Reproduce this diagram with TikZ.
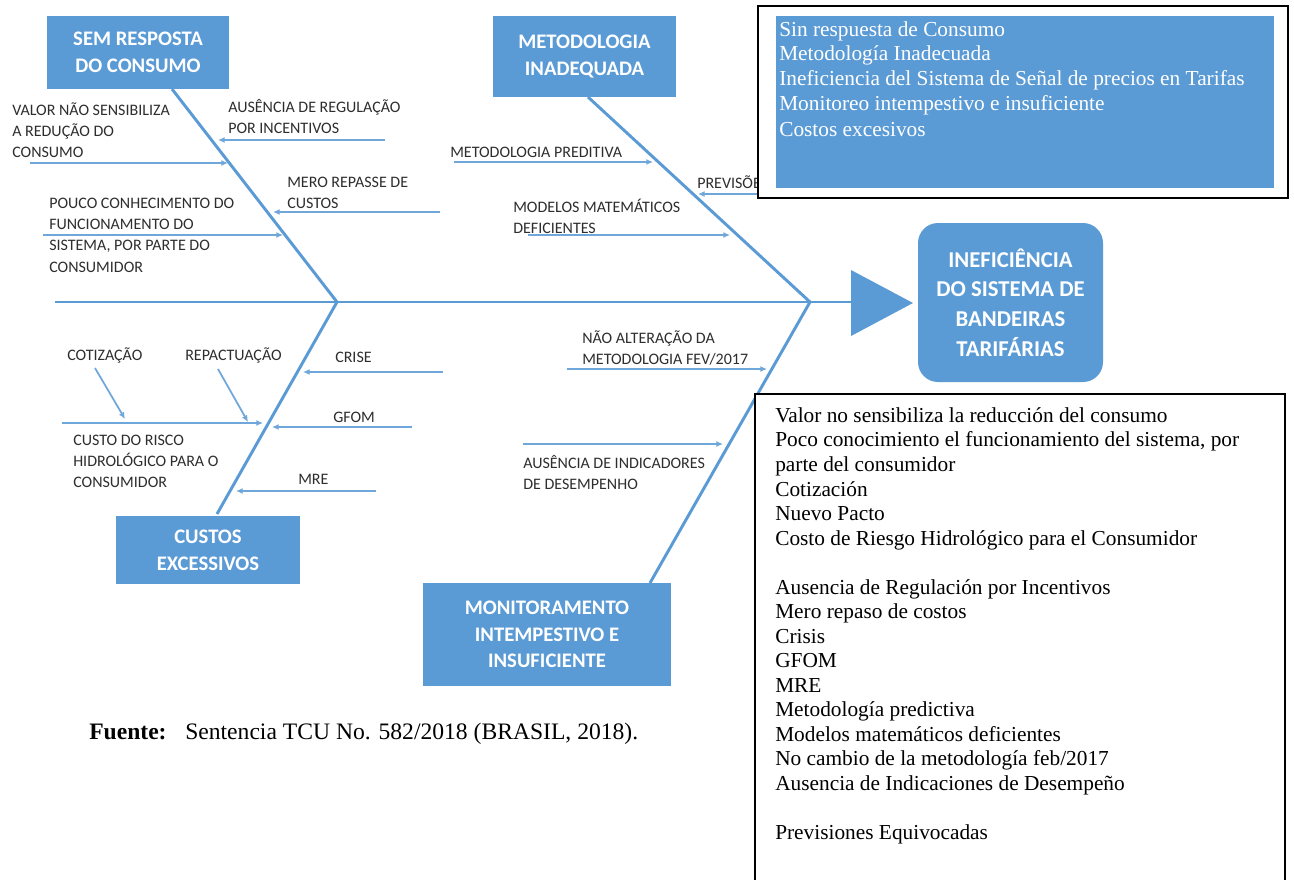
\documentclass[tikz,border=0pt]{standalone}
\usepackage{fontspec}
\newfontfamily\calfont{Carlito}
\newfontfamily\tmsfont{Liberation Serif}
\usetikzlibrary{arrows.meta}
\definecolor{bblue}{HTML}{5B9BD5}
\definecolor{ablue}{HTML}{6FA7DA}
\definecolor{labc}{HTML}{2E2E2E}
\begin{document}
\begin{tikzpicture}[x=0.75pt,y=-0.75pt,
  title/.style={fill=bblue, text=white, font=\calfont\bfseries\fontsize{15.5}{20}\selectfont, align=center, inner sep=0pt},
  lab/.style={anchor=north west, inner sep=0pt, align=left, text=labc, font=\calfont\fontsize{12}{16}\selectfont},
  bone/.style={draw=bblue, line width=2.2pt},
  sub/.style={draw=ablue, line width=1.3pt, -{Latex[length=5pt,width=4.5pt]}},
  ser/.style={font=\tmsfont\fontsize{16}{18.4}\selectfont, align=left, inner sep=0pt, anchor=north west}
]
\useasboundingbox (0,0) rectangle (1294,879);
\fill[white] (0,0) rectangle (1294,879);

% category boxes
\node[title, minimum width=136.5pt, minimum height=54.75pt] (b1) at (138,52.5) {SEM RESPOSTA\\DO CONSUMO};
\node[title, minimum width=137.25pt, minimum height=60.75pt] (b2) at (584.5,56.5) {METODOLOGIA\\INADEQUADA};
\node[title, minimum width=138pt, minimum height=51pt] (b3) at (208,550) {CUSTOS\\EXCESSIVOS};
\node[title, minimum width=186pt, minimum height=77.25pt] (b4) at (547,634.5) {MONITORAMENTO\\INTEMPESTIVO E\\INSUFICIENTE};
\node[title, rounded corners=15pt, font=\calfont\bfseries\fontsize{17}{22.3}\selectfont, minimum width=138.75pt, minimum height=119.25pt] (ef) at (1010.5,302.5) {INEFICIÊNCIA\\DO SISTEMA DE\\BANDEIRAS\\TARIFÁRIAS};

% spine and bones
\coordinate (s0) at (55,302);
\coordinate (j1) at (337,302);
\coordinate (j2) at (810,302);
\coordinate (tb) at (851,302);
\coordinate (k1) at (172,89);
\coordinate (k2) at (588,97);
\coordinate (k3) at (217,514);
\coordinate (k4) at (650,583);
\draw[bone] (s0) -- (tb);
\fill[bblue] (851,270) -- (913,303) -- (851,336) -- cycle;
\draw[bone] (k1) -- (j1) -- (k3);
\draw[bone] (k2) -- (j2) -- (k4);

% sub-cause arrows
\coordinate (a1s) at (385,140);  \coordinate (a1e) at (218,140);
\coordinate (a2s) at (30,163);   \coordinate (a2e) at (228,163);
\coordinate (a3s) at (440,212);  \coordinate (a3e) at (273,212);
\coordinate (a4s) at (43,235);   \coordinate (a4e) at (283,235);
\coordinate (a5s) at (454,162);  \coordinate (a5e) at (653,162);
\coordinate (a6s) at (770,194);  \coordinate (a6e) at (698,194);
\coordinate (a7s) at (528,235);  \coordinate (a7e) at (730,235);
\coordinate (a8s) at (443,372);  \coordinate (a8e) at (303,372);
\coordinate (a9s) at (412,427);  \coordinate (a9e) at (272,427);
\coordinate (a10s) at (376,491); \coordinate (a10e) at (236,491);
\coordinate (a11s) at (62,423);  \coordinate (a11e) at (263,423);
\coordinate (a12s) at (95,368);  \coordinate (a12e) at (125,419);
\coordinate (a13s) at (218,369); \coordinate (a13e) at (248,422);
\coordinate (a14s) at (567,369); \coordinate (a14e) at (767,369);
\coordinate (a15s) at (523,444); \coordinate (a15e) at (723,444);
\foreach \i in {1,...,15} {\draw[sub] (a\i s) -- (a\i e);}

% labels
\node[lab] (l1) at (228,97) {\strut AUSÊNCIA DE REGULAÇÃO\\POR INCENTIVOS};
\node[lab] (l2) at (12,100) {\strut VALOR NÃO SENSIBILIZA\\A REDUÇÃO DO\\CONSUMO};
\node[lab] (l3) at (287,172) {\strut MERO REPASSE DE\\CUSTOS};
\node[lab] (l4) at (49,193) {\strut POUCO CONHECIMENTO DO\\FUNCIONAMENTO DO\\SISTEMA, POR PARTE DO\\CONSUMIDOR};
\node[lab] (l5) at (450,142) {\strut METODOLOGIA PREDITIVA};
\node[lab] (l6) at (697,173) {\strut PREVISÕES};
\node[lab] (l7) at (513,197) {\strut MODELOS MATEMÁTICOS\\DEFICIENTES};
\node[lab] (l8) at (67,345) {\strut COTIZAÇÃO};
\node[lab] (l9) at (185,345) {\strut REPACTUAÇÃO};
\node[lab] (l10) at (335,347) {\strut CRISE};
\node[lab] (l11) at (333,407) {\strut GFOM};
\node[lab] (l12) at (298,469) {\strut MRE};
\node[lab] (l13) at (73,430) {\strut CUSTO DO RISCO\\HIDROLÓGICO PARA O\\CONSUMIDOR};
\node[lab] (l14) at (582,328) {\strut NÃO ALTERAÇÃO DA\\METODOLOGIA FEV/2017};
\node[lab] (l15) at (523,453) {\strut AUSÊNCIA DE INDICADORES\\DE DESEMPENHO};

% top legend box
\node[draw=black, line width=1.5pt, fill=white, minimum width=397.5pt, minimum height=144pt, inner sep=0pt] (tbox) at (1023,102) {};
\node[fill=bblue, minimum width=373.5pt, minimum height=129pt, inner sep=0pt] (tblue) at (1025,102) {};
\node[ser, text=white] (ttext) at (779,19) {\strut Sin respuesta de Consumo\\Metodología Inadecuada\\Ineficiencia del Sistema de Señal de precios en Tarifas\\Monitoreo intempestivo e insuficiente\\[1.2pt]Costos excesivos};

% bottom legend box
\fill[white] (755,394) rectangle (1285,882);
\draw[line width=1.3pt] (755,884) -- (755,394) -- (1285,394) -- (1285,884);
\node[ser, text=black] (btext) at (775,405) {\strut Valor no sensibiliza la reducción del consumo\\Poco conocimiento el funcionamiento del sistema, por\\parte del consumidor\\Cotización\\Nuevo Pacto\\Costo de Riesgo Hidrológico para el Consumidor\\[18.4pt]Ausencia de Regulación por Incentivos\\Mero repaso de costos\\Crisis\\GFOM\\MRE\\Metodología predictiva\\Modelos matemáticos deficientes\\No cambio de la metodología feb/2017\\Ausencia de Indicaciones de Desempeño\\[18.4pt]Previsiones Equivocadas};

% source
\node[anchor=base west, inner sep=0pt, font=\tmsfont\fontsize{17.7}{20}\selectfont] (src) at (89,739) {\textbf{Fuente:}\hspace{14pt}Sentencia TCU No. 582/2018 (BRASIL, 2018).};
\end{tikzpicture}
\end{document}
